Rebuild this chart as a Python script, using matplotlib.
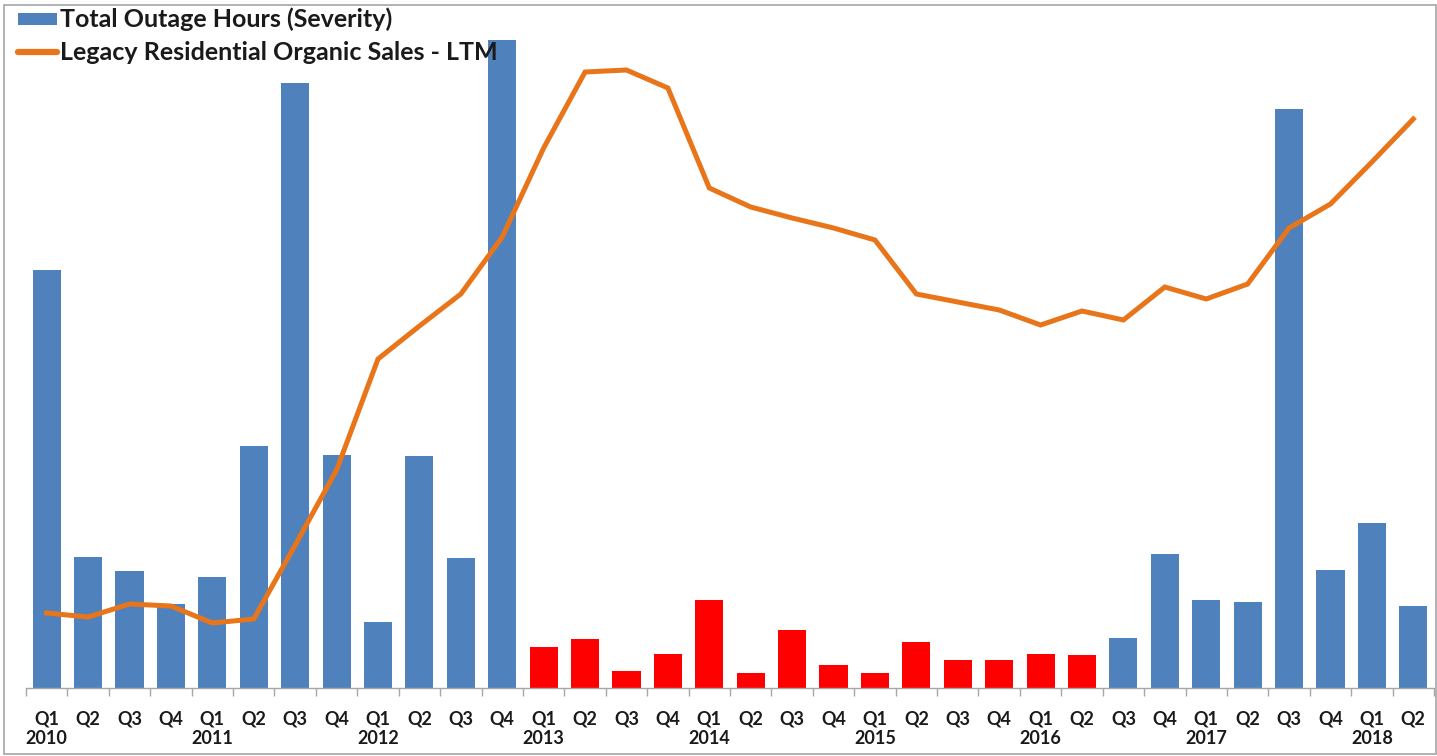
import matplotlib
matplotlib.use("Agg")
import matplotlib.pyplot as plt
from matplotlib.patches import Rectangle
from matplotlib.lines import Line2D
import numpy as np

quarters = ["Q1", "Q2", "Q3", "Q4"] * 8 + ["Q1", "Q2"]
years = ["2010", "2011", "2012", "2013", "2014", "2015", "2016", "2017", "2018"]

outage_hours = [418, 131, 117, 84, 111, 242, 605, 233, 66, 232, 130, 648,
                41, 49, 17, 34, 88, 15, 58, 23, 15, 46, 28, 28, 34, 33,
                50, 134, 88, 86, 579, 118, 165, 82]
organic_sales = [75, 71, 84, 82, 65, 69, 143, 218, 329, 362, 394, 451,
                 540, 616, 618, 600, 500, 481, 470, 460, 448, 394, 386, 378,
                 363, 377, 368, 401, 389, 404, 460, 484, 526, 569]
# 1 = highlighted (red) period Q1 2013 - Q2 2016
highlight = [0] * 12 + [1] * 14 + [0] * 8

BLUE = "#4F81BD"
RED = "#FF0000"
ORANGE = "#E8751A"

W, H = 1437, 756
fig = plt.figure(figsize=(W / 100, H / 100), dpi=100)
ax = fig.add_axes([26 / W, 68 / H, (1434 - 26) / W, (688 - 28) / H])

n = len(outage_hours)
x = np.arange(n)
colors = [RED if h else BLUE for h in highlight]
ax.bar(x, outage_hours, width=0.68, color=colors, zorder=2)
ax.plot(x, organic_sales, color=ORANGE, linewidth=3.6, solid_joinstyle="miter", zorder=3)

ax.set_xlim(-0.5, n - 0.5)
ax.set_ylim(0, 660)
ax.set_yticks([])
for s in ["top", "right", "left"]:
    ax.spines[s].set_visible(False)
ax.spines["bottom"].set_color("#A6A6A6")
ax.spines["bottom"].set_linewidth(1.0)

ax.set_xticks(x)
ax.set_xticklabels(quarters, fontfamily="Lato", fontweight="bold", fontsize=13, color="#1a1a1a")
ax.tick_params(axis="x", which="major", length=0, pad=16)
ax.set_xticks(np.arange(-0.5, n, 1.0), minor=True)
ax.tick_params(axis="x", which="minor", length=6, color="#A6A6A6", width=1)

trans = ax.get_xaxis_transform()
for i, yr in enumerate(years):
    ax.text(i * 4, -0.064, yr, transform=trans, ha="center", va="top",
            fontfamily="Lato", fontweight="bold", fontsize=13, color="#1a1a1a")

# Legend (manual)
fig.patches.append(Rectangle((18 / W, 1 - 25 / H), 39 / W, 12 / H, transform=fig.transFigure,
                             facecolor=BLUE, edgecolor="none"))
fig.lines.append(Line2D([18 / W, 57 / W], [1 - 52 / H, 1 - 52 / H], transform=fig.transFigure,
                        color=ORANGE, linewidth=4.5, solid_capstyle="round"))
fig.text(60 / W, 1 - 19 / H, "Total Outage Hours (Severity)", ha="left", va="center",
         fontfamily="Lato", fontweight="bold", fontsize=18, color="#1a1a1a")
fig.text(60 / W, 1 - 52 / H, "Legacy Residential Organic Sales - LTM", ha="left", va="center",
         fontfamily="Lato", fontweight="bold", fontsize=18, color="#1a1a1a")

# outer chart border
fig.patches.append(Rectangle((4 / W, 2 / H), (W - 5) / W, (H - 7) / H, transform=fig.transFigure,
                             facecolor="none", edgecolor="#A6A6A6", linewidth=1.2))

fig.savefig("out.png", dpi=100)
